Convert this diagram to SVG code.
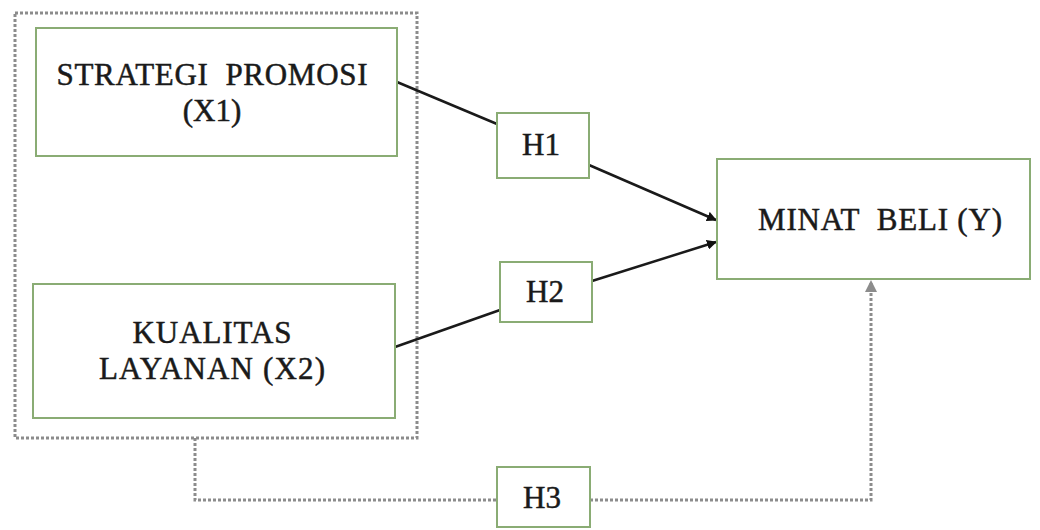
<svg xmlns="http://www.w3.org/2000/svg" width="1040" height="530" viewBox="0 0 1040 530">
<style>
.box{fill:#ffffff;stroke:#8aac74;stroke-width:2}
.t{font-family:"Liberation Serif","Times New Roman",serif;font-size:31px;fill:#1a1a1a;stroke:#1a1a1a;stroke-width:0.5;text-anchor:middle;white-space:pre}
.solid{stroke:#1a1a1a;stroke-width:2.5;fill:none}
.dot{stroke:#8c8c8c;stroke-width:3;fill:none;stroke-dasharray:3 2}
</style>
<defs>
<marker id="ab" markerWidth="10" markerHeight="10" refX="9" refY="5" orient="auto" markerUnits="userSpaceOnUse" viewBox="0 0 10 10">
<path d="M0,0 L10,5 L0,10 z" fill="#111"/>
</marker>
<marker id="ag" markerWidth="12" markerHeight="12" refX="10" refY="6" orient="auto" markerUnits="userSpaceOnUse" viewBox="0 0 12 12">
<path d="M0,0 L12,6 L0,12 z" fill="#8c8c8c"/>
</marker>
</defs>
<rect width="1040" height="530" fill="#ffffff"/>
<g id="group-x"><rect class="dot" x="15" y="13" width="402" height="425"/></g>
<g id="connectors">
<line class="solid" x1="397" y1="82" x2="497" y2="124"/>
<line class="solid" x1="589" y1="165" x2="716" y2="220" marker-end="url(#ab)"/>
<line class="solid" x1="395" y1="347" x2="500" y2="310"/>
<line class="solid" x1="592" y1="281" x2="716" y2="242" marker-end="url(#ab)"/>
<polyline class="dot" points="195,438 195,500 497,500"/>
<polyline class="dot" points="590,500 871,500 871,282" marker-end="url(#ag)"/>
</g>
<g id="x1"><rect class="box" x="36" y="28" width="361" height="128"/>
<text class="t" x="212" y="85" textLength="311" xml:space="preserve">STRATEGI  PROMOSI</text><text class="t" x="212" y="121">(X1)</text></g>
<g id="x2"><rect class="box" x="33" y="284" width="362" height="134"/>
<text class="t" x="212" y="343" textLength="159">KUALITAS</text><text class="t" x="212" y="379" textLength="226">LAYANAN (X2)</text></g>
<g id="y"><rect class="box" x="717" y="159" width="313" height="120"/>
<text class="t" x="880" y="230" textLength="244" xml:space="preserve">MINAT  BELI (Y)</text></g>
<g id="h1"><rect class="box" x="497" y="113" width="92" height="65"/><text class="t" x="541" y="155">H1</text></g>
<g id="h2"><rect class="box" x="500" y="262" width="92" height="60"/><text class="t" x="545" y="302">H2</text></g>
<g id="h3"><rect class="box" x="497" y="467" width="93" height="60"/><text class="t" x="542" y="508">H3</text></g>
</svg>
